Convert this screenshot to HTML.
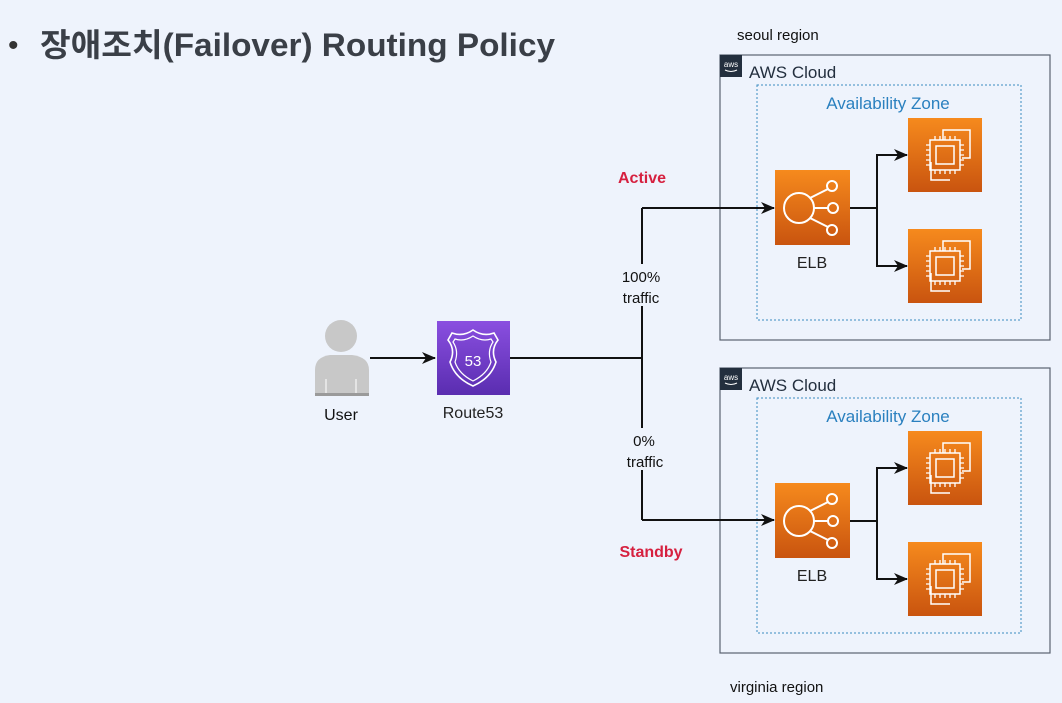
<!DOCTYPE html>
<html><head><meta charset="utf-8"><style>
body{margin:0;width:1062px;height:698px;background:#eef3fc;overflow:hidden;font-family:"Liberation Sans","Noto Sans CJK KR",sans-serif}
</style></head><body>
<svg width="1062" height="698" xmlns="http://www.w3.org/2000/svg" font-family="Liberation Sans, Noto Sans CJK KR, sans-serif">
<defs>
<linearGradient id="og" x1="0" y1="0" x2="0" y2="1"><stop offset="0" stop-color="#f68a1d"/><stop offset="1" stop-color="#c9540f"/></linearGradient>
<linearGradient id="pg" x1="0" y1="0" x2="0" y2="1"><stop offset="0" stop-color="#8a4fe0"/><stop offset="1" stop-color="#5a2db0"/></linearGradient>
<marker id="ar" markerWidth="14" markerHeight="14" refX="13" refY="7" orient="auto" markerUnits="userSpaceOnUse"><path d="M0,1 L14,7 L0,13 L4,7z" fill="#111"/></marker>
<g id="ec2">
<rect width="74" height="74" fill="url(#og)"/>
<path d="M23 44 V62 H42" fill="none" stroke="#fff" stroke-width="1.5"/>
<path d="M35 22 V12 H62 V40 H54" fill="none" stroke="#fff" stroke-width="1.5"/>
<rect x="22" y="22" width="30" height="30" fill="none" stroke="#fff" stroke-width="1.5"/>
<rect x="28" y="28" width="18" height="18" fill="none" stroke="#fff" stroke-width="1.5"/>
<path d="M27 22v-4M32 22v-4M37 22v-4M42 22v-4M47 22v-4M27 52v4M32 52v4M37 52v4M42 52v4M47 52v4M22 27h-4M22 32h-4M22 37h-4M22 42h-4M22 47h-4M52 27h4M52 32h4M52 37h4M52 42h4M52 47h4" stroke="#fff" stroke-width="1.3"/>
</g>
<g id="elb">
<rect width="75" height="75" fill="url(#og)"/>
<circle cx="24" cy="38" r="15" fill="none" stroke="#fff" stroke-width="2"/>
<circle cx="57" cy="16" r="5" fill="none" stroke="#fff" stroke-width="2"/>
<circle cx="58" cy="38" r="5" fill="none" stroke="#fff" stroke-width="2"/>
<circle cx="57" cy="60" r="5" fill="none" stroke="#fff" stroke-width="2"/>
<path d="M35 28 L53 19 M39 38 H53 M35 48 L53 57" stroke="#fff" stroke-width="2"/>
</g>
<g id="cloud">
<rect width="330" height="285" fill="none" stroke="#5a6270" stroke-width="1.2"/>
<rect width="22" height="22" fill="#232f3e"/>
<text x="11" y="12" font-size="8" fill="#fff" text-anchor="middle">aws</text>
<path d="M5 15 Q11 18 17 15" stroke="#fff" fill="none" stroke-width="1"/>
<text x="29" y="23" font-size="17" fill="#232f3e">AWS Cloud</text>
<rect x="37" y="30" width="264" height="235" fill="none" stroke="#3a8bc0" stroke-width="1" stroke-dasharray="2,2"/>
<text x="168" y="54" font-size="17" fill="#2a80bf" text-anchor="middle">Availability Zone</text>
</g>
</defs>
<text x="8" y="55" font-size="30" fill="#333">•</text>
<text x="40" y="56" font-size="32" font-weight="bold" fill="#3a3f47" textLength="515" lengthAdjust="spacingAndGlyphs">장애조치(Failover) Routing Policy</text>
<text x="737" y="40" font-size="15" fill="#111">seoul region</text>
<text x="730" y="692" font-size="15" fill="#111">virginia region</text>
<use href="#cloud" x="720" y="55"/>
<use href="#cloud" x="720" y="368"/>
<circle cx="341" cy="336" r="16" fill="#c8c8c8"/>
<path d="M315 395 V370 Q315 357 330 355 H352 Q369 357 369 370 V395z" fill="#c8c8c8"/>
<path d="M326 379v15M356 379v15" stroke="#fff" stroke-width="1"/>
<rect x="315" y="393" width="54" height="3" fill="#9a9a9a"/>
<text x="341" y="420" font-size="16" fill="#111" text-anchor="middle">User</text>
<rect x="437" y="321" width="73" height="74" fill="url(#pg)"/>
<path d="M473 330 Q463 337 452 333 L448 340 Q456 350 450 362 Q455 378 473 386 Q491 378 496 362 Q490 350 498 340 L494 333 Q483 337 473 330z" fill="none" stroke="#fff" stroke-width="1.6"/>
<path d="M473 336 Q464 342 455 339 L453 342 Q459 351 455 362 Q459 374 473 381 Q487 374 491 362 Q487 351 493 342 L491 339 Q482 342 473 336z" fill="none" stroke="#fff" stroke-width="1.2"/>
<text x="473" y="366" font-size="15" fill="#fff" text-anchor="middle">53</text>
<text x="473" y="418" font-size="16" fill="#222" text-anchor="middle">Route53</text>
<g stroke="#111" stroke-width="2" fill="none">
<path d="M370 358 H435" marker-end="url(#ar)"/>
<path d="M510 358 H642"/>
<path d="M642 208 V520"/>
<path d="M642 208 H774" marker-end="url(#ar)"/>
<path d="M642 520 H774" marker-end="url(#ar)"/>
<path d="M850 208 H877 V155 H907" marker-end="url(#ar)"/>
<path d="M877 208 V266 H907" marker-end="url(#ar)"/>
<path d="M850 521 H877 V468 H907" marker-end="url(#ar)"/>
<path d="M877 521 V579 H907" marker-end="url(#ar)"/>
</g>
<rect x="612" y="264" width="58" height="42" fill="#eef3fc"/>
<text x="641" y="282" font-size="15" fill="#111" text-anchor="middle">100%</text>
<text x="641" y="303" font-size="15" fill="#111" text-anchor="middle">traffic</text>
<rect x="614" y="428" width="56" height="42" fill="#eef3fc"/>
<text x="644" y="446" font-size="15" fill="#111" text-anchor="middle">0%</text>
<text x="645" y="467" font-size="15" fill="#111" text-anchor="middle">traffic</text>
<text x="642" y="183" font-size="16" font-weight="bold" fill="#d6203f" text-anchor="middle">Active</text>
<text x="651" y="557" font-size="16" font-weight="bold" fill="#d6203f" text-anchor="middle">Standby</text>
<use href="#elb" x="775" y="170"/>
<use href="#elb" x="775" y="483"/>
<text x="812" y="268" font-size="16" fill="#222" text-anchor="middle">ELB</text>
<text x="812" y="581" font-size="16" fill="#222" text-anchor="middle">ELB</text>
<use href="#ec2" x="908" y="118"/>
<use href="#ec2" x="908" y="229"/>
<use href="#ec2" x="908" y="431"/>
<use href="#ec2" x="908" y="542"/>
</svg>
</body></html>
